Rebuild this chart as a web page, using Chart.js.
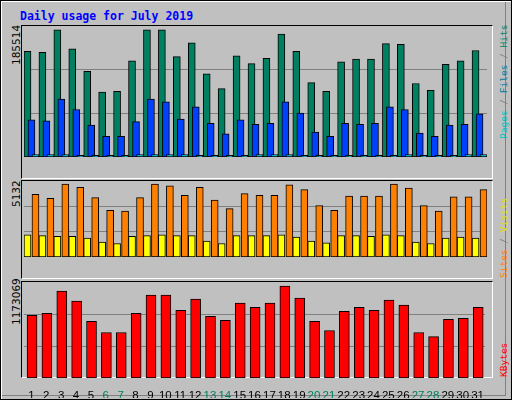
<!DOCTYPE html>
<html>
<head>
<meta charset="utf-8">
<script src="https://cdn.jsdelivr.net/npm/chart.js@4"></script>
<style>
  body { margin: 0; background: #c0c0c0; }
  #wrap { position: relative; width: 512px; height: 400px; background: #c0c0c0; box-sizing: border-box;
    border: 1px solid #000; box-shadow: inset 1px 1px 0 #fff, inset -5px -3px 0 #c0c0c0, inset -6px -4px 0 #808080; overflow: hidden; }
  .frame { position: absolute; box-sizing: border-box; border-top: 1px solid #000; border-left: 1px solid #000;
    border-right: 1px solid #fff; border-bottom: 1px solid #fff; }
  .cv { position: absolute; }
  .rot { position: absolute; transform-origin: 0 0; transform: rotate(-90deg); white-space: nowrap;
    font-family: "DejaVu Sans"; font-size: 10.5px; line-height: 12px; }
  .mono { font-family: "DejaVu Sans Mono"; font-size: 9.5px; }
  #title { position: absolute; left: 19px; top: 8px; font: bold 11.5px "DejaVu Sans Mono"; color: #0000ff; }
</style>
</head>
<body>
<div id="wrap">
  <div id="title">Daily usage for July 2019</div>
  <div class="frame" style="left:20px;top:24px;width:472px;height:154px"></div>
  <div class="frame" style="left:20px;top:179px;width:472px;height:99px"></div>
  <div class="frame" style="left:20px;top:280px;width:472px;height:97px"></div>
  <div class="cv" style="left:23px;top:25px;width:463px;height:151px"><canvas id="c1"></canvas></div>
  <div class="cv" style="left:23px;top:180px;width:463px;height:96px"><canvas id="c2"></canvas></div>
  <div class="cv" style="left:23px;top:281px;width:463px;height:116px"><canvas id="c3"></canvas></div>
  <div class="rot" style="left:9px;top:64px">185514</div>
  <div class="rot" style="left:9px;top:206px">5132</div>
  <div class="rot" style="left:9px;top:324px">1173069</div>
  <div class="rot mono" style="left:497px;top:138px"><span style="color:#00c0c0">Pages</span> <span style="color:#808080">/</span> <span style="color:#0080a0">Files</span> <span style="color:#808080">/</span> <span style="color:#008060">Hits</span></div>
  <div class="rot mono" style="left:497px;top:277px"><span style="color:#ff8000">Sites</span> <span style="color:#808080">/</span> <span style="color:#e0e000">Visits</span></div>
  <div class="rot mono" style="left:497px;top:376px;color:#ff0000">KBytes</div>
</div>
<script>
const days = ["1","2","3","4","5","6","7","8","9","10","11","12","13","14","15","16","17","18","19","20","21","22","23","24","25","26","27","28","29","30","31"];
const weekends = ["6","7","13","14","20","21","27","28"];
const hits = [154000,152700,185514,157700,124900,94500,95800,140000,185500,185500,146400,166600,121100,99600,147600,136200,143800,179300,154000,108400,95800,138800,142600,142600,165300,164100,107100,97000,135000,140000,155200];
const files = [54000,52700,84400,69200,46400,30000,30000,51500,84400,80600,55300,73000,49000,33800,54000,47700,49000,80600,64100,36300,30000,49000,47700,49000,73000,69200,35000,30000,46400,47700,62900];
const pages = [3500,3500,3500,2300,2300,2300,2300,3500,3500,3500,3500,2300,2300,2300,2300,3500,3500,3500,2300,2300,2300,2300,2300,2300,2300,3500,2300,2300,2300,3500,3500];
const visits = [1562,1507,1451,1451,1339,1060,949,1451,1507,1562,1507,1507,1116,949,1507,1507,1507,1562,1395,1116,1004,1507,1507,1451,1562,1507,1060,949,1339,1395,1339];
const sites = [4408,4129,5132,4910,4185,3292,3236,4185,5132,5022,4352,4910,4018,3404,4464,4352,4352,5078,4743,3627,3292,4297,4297,4297,5132,4855,3627,3236,4241,4241,4743];
const kbytes = [799200,825000,1108600,979700,721900,580100,580100,825000,1057100,1057100,863700,1005500,786400,734800,953900,902400,953900,1173069,1018400,721900,605900,850800,902400,863700,992600,928200,580100,528500,747700,760600,902400];

// shift of each overlapping bar inside a day, in day units (~2px)
const STEP = 2 / 14.94;

function bar(label, values, color, shift, width) {
  return {
    label: label,
    data: values.map((v, i) => ({ x: i + 1 + shift * STEP, y: v })),
    backgroundColor: color, borderColor: "#000", borderWidth: 1,
    borderSkipped: false, barThickness: width || 7, grouped: false
  };
}

function makeChart(id, datasets, top, showX) {
  return new Chart(document.getElementById(id), {
    type: "bar",
    data: { datasets: datasets },
    options: {
      responsive: true, maintainAspectRatio: false, animation: false,
      layout: { padding: 0 },
      plugins: { legend: { display: false }, tooltip: { enabled: false } },
      scales: {
        x: {
          type: "linear", min: 0.5, max: 31.5, offset: false,
          display: showX,
          grid: { display: false },
          border: { display: false },
          afterFit: (s) => { s.height = 20; },
          afterBuildTicks: (s) => { s.ticks = days.map((d) => ({ value: +d })); },
          ticks: {
            padding: 3, maxRotation: 0, autoSkip: false,
            font: { family: "Liberation Sans", size: 11.5 },
            callback: (v) => String(v),
            color: (c) => weekends.includes(String(c.tick.value)) ? "#008060" : "#000"
          }
        },
        y: {
          min: 0, max: top,
          ticks: { display: false, stepSize: top / 3 },
          grid: { color: "#808080", drawTicks: false, lineWidth: (c) => c.tick.value > 0 && c.tick.value < top - 1 ? 1 : 0 },
          border: { display: false },
          afterFit: (s) => { s.width = 0; }
        }
      }
    }
  });
}

// first dataset is drawn on top
makeChart("c1", [
  bar("Pages", pages, "#00e0ff", 2),
  bar("Files", files, "#0040ff", 0),
  bar("Hits", hits, "#008060", -2)
], Math.max(...hits) * 151 / 146.7, false);

makeChart("c2", [
  bar("Sites", sites, "#ff8000", 2),
  bar("Visits", visits, "#ffff00", -2)
], Math.max(...sites) * 96 / 92, false);

makeChart("c3", [
  bar("KBytes", kbytes, "#ff0000", 0.3, 10)
], Math.max(...kbytes) * 96 / 92, true);
</script>
</body>
</html>
